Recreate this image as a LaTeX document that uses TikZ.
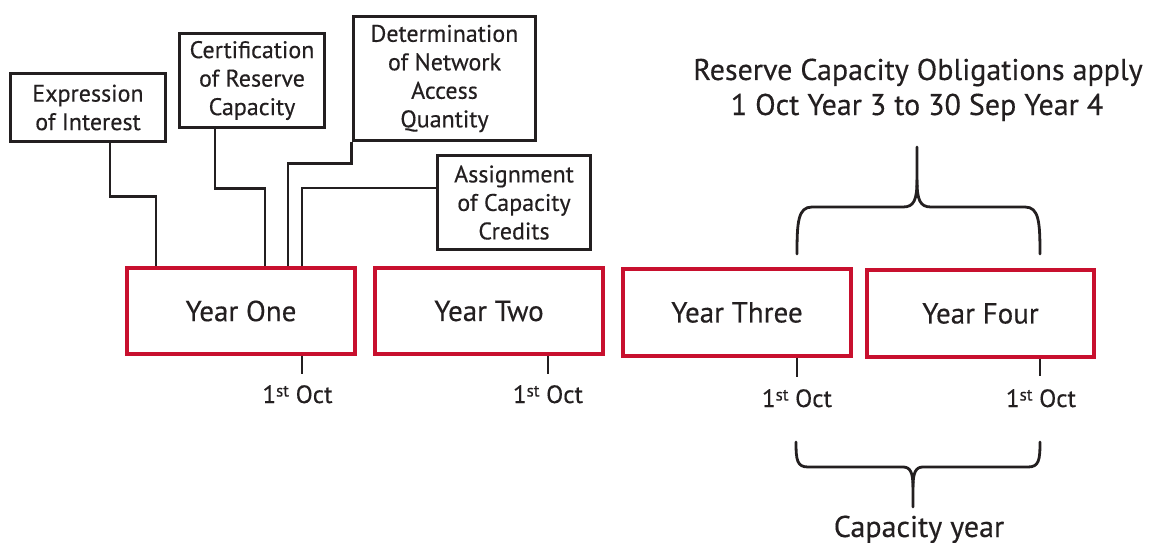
\documentclass[tikz,border=0pt]{standalone}
\usepackage{fontspec}
\setmainfont{PT Sans}[FakeBold=0.35]
\definecolor{rred}{HTML}{C8102E}
\definecolor{ink}{HTML}{231F20}
\newcommand{\stsup}{\raisebox{6.5pt}{\fontsize{17}{17}\selectfont st}}
\begin{document}
\begin{tikzpicture}[x=1pt,y=-1pt,
  blackbox/.style={draw=ink, line width=3.8pt, align=center, font=\fontsize{24}{28.5}\selectfont, text=ink, inner sep=0pt},
  yearbox/.style={draw=rred, line width=3.8pt, font=\fontsize{29}{32}\selectfont, text=ink, inner sep=0pt},
  conn/.style={draw=ink, line width=2.5pt},
  octlabel/.style={font=\fontsize{25}{26}\selectfont, text=ink, inner sep=0pt, anchor=base},
  headtext/.style={font=\fontsize{30}{32}\selectfont, text=ink, inner sep=0pt, anchor=base},
  bracestyle/.style={draw=ink, line width=2.8pt, line join=round, line cap=round}]
\useasboundingbox (0,0) rectangle (1149,543);

% event boxes
\node[blackbox, minimum width=155, minimum height=68] (eoi) at (88,107.5) {Expression\\of Interest};
\node[blackbox, minimum width=145, minimum height=94] (cert) at (252,80.5) {Certification\\of Reserve\\Capacity};
\node[blackbox, minimum width=182, minimum height=124] (det) at (444.5,78.5) {Determination\\of Network\\Access\\Quantity};
\node[blackbox, minimum width=153, minimum height=94] (asg) at (514,202.5) {Assignment\\of Capacity\\Credits};

% year boxes
\node[yearbox, minimum width=228, minimum height=86] (y1) at (241,311) {Year One};
\node[yearbox, minimum width=228, minimum height=86] (y2) at (489,311) {Year Two};
\node[yearbox, minimum width=228, minimum height=87] (y3) at (737,312.5) {Year Three};
\node[yearbox, minimum width=227, minimum height=87] (y4) at (980.5,313.5) {Year Four};

% connectors
\draw[conn] ([xshift=22]eoi.south) -- ++(0,53) -| ([xshift=31]y1.north west);
\draw[conn] ([xshift=-37]cert.south) -- ++(0,59) -| ([xshift=140]y1.north west);
\draw[conn] (det.south west) -- ++(0,21) -| ([xshift=163]y1.north west);
\draw[conn] ([yshift=14.5]asg.west) -| ([xshift=177]y1.north west);

% ticks and dates
\draw[conn] ([xshift=-55]y1.south east) -- ++(0,18);
\draw[conn] ([xshift=-57]y2.south east) -- ++(0,18);
\draw[conn] ([xshift=-56]y3.south east) -- ++(0,19);
\draw[conn] ([xshift=-56]y4.south east) -- ++(0,17);
\node[octlabel] (o1) at (297.5,403) {1\stsup\ Oct};
\node[octlabel] (o2) at (548,403) {1\stsup\ Oct};
\node[octlabel] (o3) at (797,407) {1\stsup\ Oct};
\node[octlabel] (o4) at (1041,407) {1\stsup\ Oct};

% upper brace
\draw[bracestyle] (797,254) .. controls (797,222) and (798,207) .. (812,207) -- (903,207)
  .. controls (914,207) and (917,200) .. (917,180) -- (917,147);
\draw[bracestyle] (1040,254) .. controls (1040,222) and (1039,207) .. (1025,207) -- (931,207)
  .. controls (920,207) and (917,200) .. (917,180);
\node[headtext] (h1) at (918,80) {Reserve Capacity Obligations apply};
\node[headtext] (h2) at (917,115) {1 Oct Year 3 to 30 Sep Year 4};

% lower brace
\draw[bracestyle] (796,442) .. controls (796,460) and (797,467) .. (808,467) -- (903,467)
  .. controls (910,467) and (913,472) .. (913,487) -- (913,507);
\draw[bracestyle] (1040,442) .. controls (1040,460) and (1039,467) .. (1028,467) -- (923,467)
  .. controls (916,467) and (913,472) .. (913,487);
\node[headtext] (cy) at (919,537) {Capacity year};
\end{tikzpicture}
\end{document}
